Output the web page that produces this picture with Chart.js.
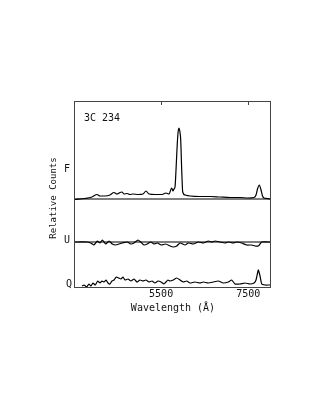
<!DOCTYPE html>
<html>
<head>
<meta charset="utf-8">
<script src="https://cdn.jsdelivr.net/npm/chart.js@4"></script>
<style>
  html, body { margin: 0; padding: 0; background: #fff; }
  canvas { display: block; }
</style>
</head>
<body>
<canvas id="spec" width="321" height="415"></canvas>
<script>
// 3C 234 spectropolarimetry: total flux F, Stokes U and Q stacked in one frame

const xTicks = [5500, 7500];

// F: total flux (wavelength, relative counts above baseline)
const fWave = [3520, 3753, 3913, 4028, 4097, 4212, 4327, 4418, 4487, 4556, 4602, 4648, 4717, 4786, 4855, 4969,
  5084, 5153, 5222, 5360, 5520, 5612, 5681, 5743, 5773, 5796, 5819, 5842, 5872, 5893, 5911, 5929, 5950, 5973,
  5996, 6049, 6163, 6393, 6623, 6852, 7082, 7311, 7495, 7633, 7679, 7713, 7755, 7794, 7828, 7862, 7931, 8000];
const fFlux = [-0.5, 0.5, 2, 4.5, 3, 3, 4, 6.5, 5, 6.5, 7, 5, 5.5, 4.5, 5, 4.5,
  5, 8, 5, 4.5, 4.5, 6, 5, 11, 8, 10, 12, 29, 56, 68, 71, 68, 59, 29,
  7, 4, 3, 2.5, 2.5, 2, 1.5, 1.5, 1, 1.5, 4, 10, 14, 9, 3, 1, 0.5, 0];

// U: Stokes U about its zero line
const uWave = [3500, 3798, 3883, 3959, 4035, 4097, 4150, 4228, 4304, 4379, 4457, 4533, 4609, 4724, 4802, 4878,
  4969, 5031, 5107, 5183, 5261, 5337, 5413, 5504, 5605, 5704, 5780, 5858, 5934, 6049, 6124, 6239, 6354, 6469,
  6584, 6662, 6737, 6852, 6967, 7043, 7158, 7236, 7350, 7465, 7580, 7656, 7732, 7787, 7810, 8000];
const uFlux = [0, 0, -1, -3, 1, -1, 2, -2, 1, -2, -3, -2, -1, 0, -2, -1,
  2, 0, -3, -2, 0, -2, -1, -3, -2, -4, -5, -4, -1, -3, -1, -2, 0, -1,
  1, 0, 1, 0, -1, 0, -1, 0, -1, -3, -3, -4, -4, -1, 0, 0];

// Q: Stokes Q above the lower axis
const qWave = [3684, 3730, 3792, 3844, 3890, 3936, 3989, 4044, 4097, 4143, 4189, 4235, 4281, 4327, 4372, 4418,
  4471, 4526, 4579, 4625, 4671, 4740, 4809, 4878, 4946, 5015, 5084, 5153, 5222, 5291, 5360, 5429, 5498, 5566,
  5612, 5658, 5704, 5780, 5858, 5934, 6009, 6088, 6163, 6278, 6393, 6469, 6584, 6698, 6813, 6928, 7043, 7121,
  7197, 7311, 7426, 7541, 7633, 7679, 7732, 7771, 7810, 7885, 7961, 8000];
const qFlux = [0, 1, -1, 2, 0, 3, 1, 5, 3, 5, 4, 6, 3, 2, 5, 6,
  9, 8, 7, 9, 6, 7, 5, 7, 4, 6, 5, 6, 4, 5, 3, 5, 4, 2,
  4, 6, 5, 6, 8, 6, 4, 5, 3, 4, 3, 4, 3, 4, 5, 3, 4, 6,
  2, 2, 3, 2, 3, 6, 16, 10, 2, 1, 1, 1];

// panel zero levels in the shared frame
const fOffset = 87, uOffset = 44, qOffset = 0;
const xRange = [3500, 8000];

const toPoints = (xs, ys, off) => xs.map((x, i) => ({ x, y: ys[i] + off }));
const hline = off => xRange.map(x => ({ x, y: off }));

const frame = {
  id: 'frame',
  afterDraw(chart) {
    const { ctx, chartArea: a, scales } = chart;
    const xs = scales.x, ys = scales.y;
    ctx.save();
    ctx.strokeStyle = '#444';
    ctx.lineWidth = 1;
    ctx.strokeRect(a.left + 0.5, a.top + 0.5, a.right - a.left, a.bottom - a.top);
    // inward ticks on the top edge
    xTicks.forEach(t => {
      const px = Math.round(xs.getPixelForValue(t)) + 0.5;
      ctx.beginPath(); ctx.moveTo(px, a.top); ctx.lineTo(px, a.top + 4); ctx.stroke();
    });
    ctx.fillStyle = '#111';
    ctx.font = '10px "DejaVu Sans Mono"';
    ctx.textAlign = 'center'; ctx.textBaseline = 'middle';
    xTicks.forEach(t => ctx.fillText(String(t), xs.getPixelForValue(t), a.bottom + 7));
    ctx.fillText('Wavelength (\u00C5)', (a.left + a.right) / 2 + 1, a.bottom + 21);
    // panel letters
    ctx.fillText('F', a.left - 7, ys.getPixelForValue(fOffset + 30));
    ctx.fillText('U', a.left - 7, ys.getPixelForValue(uOffset + 2));
    ctx.fillText('Q', a.left - 5, ys.getPixelForValue(qOffset + 2));
    ctx.textAlign = 'left';
    ctx.fillText('3C 234', a.left + 10, a.top + 17);
    // y title
    ctx.translate(a.left - 20, 198);
    ctx.rotate(-Math.PI / 2);
    ctx.textAlign = 'center';
    ctx.font = '9px "DejaVu Sans Mono"';
    ctx.fillText('Relative Counts', 0, 0);
    ctx.restore();
  }
};

const lineStyle = { borderColor: '#000', borderWidth: 1.2, pointRadius: 0, fill: false, clip: false };

new Chart(document.getElementById('spec'), {
  type: 'line',
  data: {
    datasets: [
      { ...lineStyle, data: hline(fOffset) },
      { ...lineStyle, data: hline(uOffset) },
      { ...lineStyle, data: toPoints(fWave, fFlux, fOffset), cubicInterpolationMode: 'monotone' },
      { ...lineStyle, data: toPoints(uWave, uFlux, uOffset), tension: 0.15 },
      { ...lineStyle, data: toPoints(qWave, qFlux, qOffset), tension: 0.15 }
    ]
  },
  options: {
    responsive: false,
    animation: false,
    devicePixelRatio: 1,
    layout: { padding: { left: 74, right: 51, top: 101, bottom: 128 } },
    plugins: { legend: { display: false }, tooltip: { enabled: false } },
    scales: {
      x: { type: 'linear', min: xRange[0], max: xRange[1], display: false },
      y: { type: 'linear', min: -1, max: 185, display: false }
    }
  },
  plugins: [frame]
});
</script>
</body>
</html>
